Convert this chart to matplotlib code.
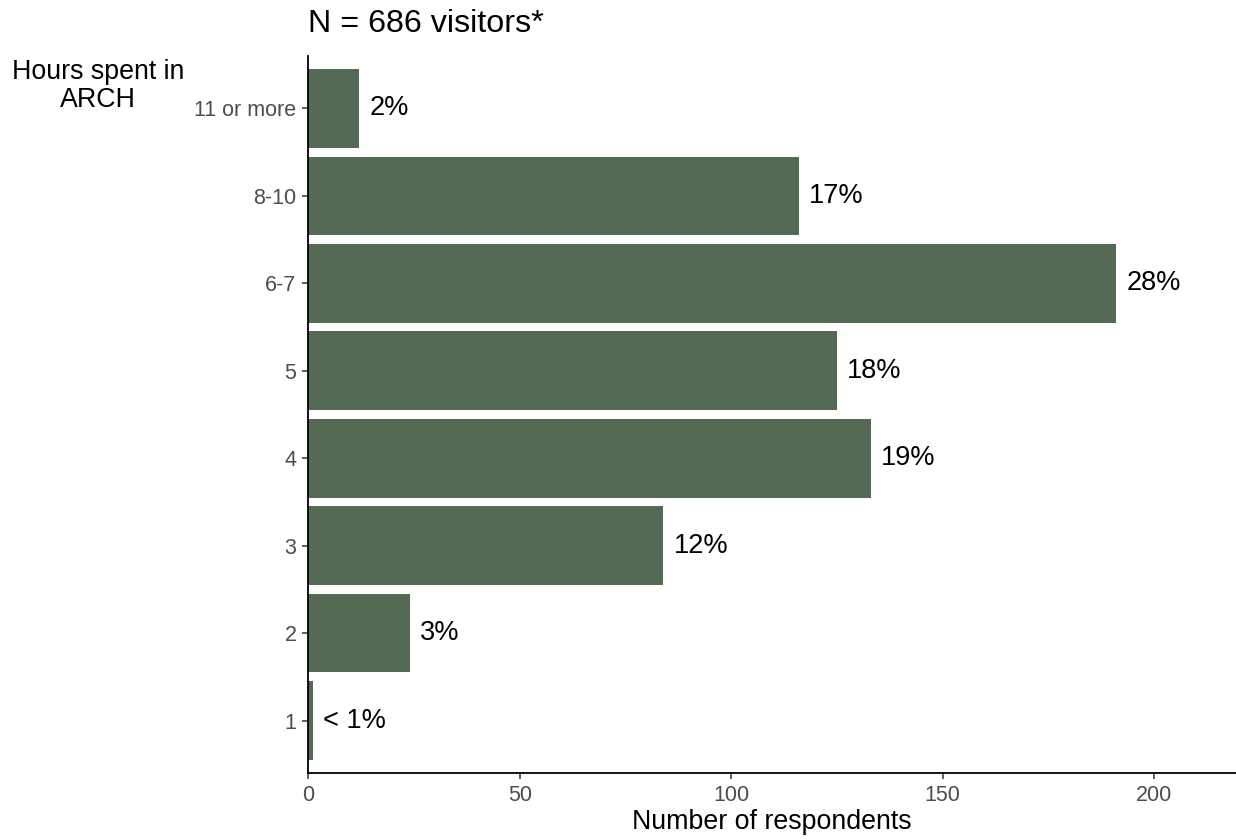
import matplotlib

matplotlib.use("Agg")
import matplotlib.pyplot as plt

categories = ["1", "2", "3", "4", "5", "6-7", "8-10", "11 or more"]
counts = [1, 24, 84, 133, 125, 191, 116, 12]
pct_labels = ["< 1%", "3%", "12%", "19%", "18%", "28%", "17%", "2%"]

BAR = "#546a55"
GREY = "#4d4d4d"

plt.rcParams["font.family"] = ["Liberation Sans", "DejaVu Sans"]

fig = plt.figure(figsize=(12.36, 8.4), dpi=100)
W, H = 1236, 840
ax = fig.add_axes([308.3 / W, 1 - 773 / H, (1236 - 308.3) / W, (773 - 56) / H])

pos = list(range(len(categories)))
ax.barh(pos, counts, height=0.9, color=BAR, edgecolor="none")
for y, v, lab in zip(pos, counts, pct_labels):
    ax.annotate(lab, xy=(v, y), xytext=(7.5, 0), textcoords="offset points",
                va="center", ha="left", fontsize=19.5, color="black")

ax.set_xlim(0, 219.4)
ax.set_ylim(-0.6, len(categories) - 0.4)
ax.set_yticks(pos)
ax.set_yticklabels(categories)
ax.set_xticks([0, 50, 100, 150, 200])
ax.tick_params(axis="both", colors="#333333", labelcolor=GREY, labelsize=15.5,
               length=4, width=1.1, pad=4.5)
for side in ("top", "right"):
    ax.spines[side].set_visible(False)
for side in ("left", "bottom"):
    ax.spines[side].set_linewidth(1.3)
    ax.spines[side].set_color("black")

ax.set_xlabel("Number of respondents", fontsize=19.3, labelpad=2)
fig.text(98 / W, 1 - 86 / H, "Hours spent in\nARCH", ha="center", va="center",
         fontsize=19.3, linespacing=1.1)
fig.text(308 / W, 1 - 24 / H, "N = 686 visitors*", ha="left", va="center",
         fontsize=23.2)

fig.savefig("out.png", dpi=100)
